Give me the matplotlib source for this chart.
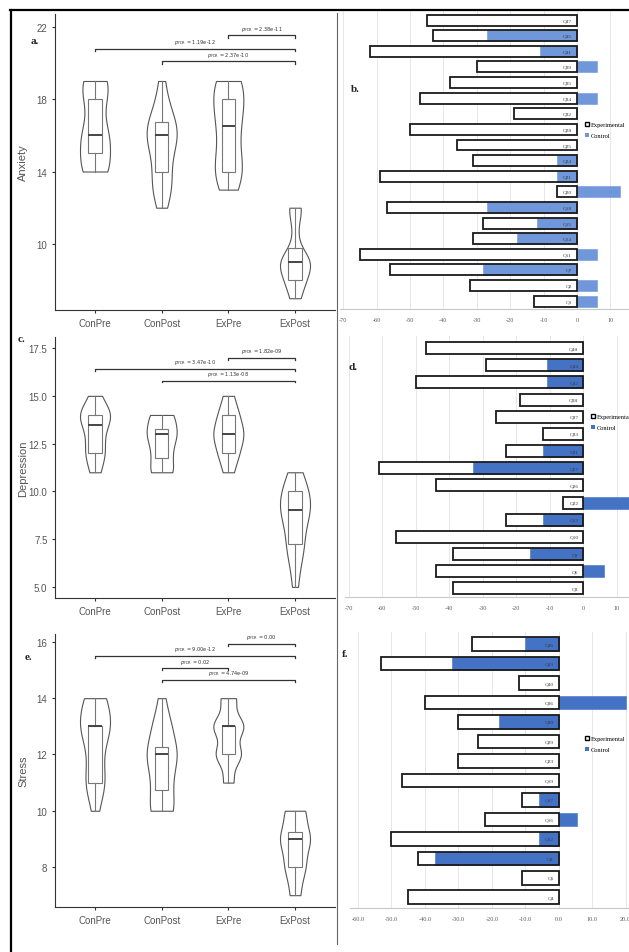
import numpy as np
import matplotlib
matplotlib.use("Agg")
import matplotlib.pyplot as plt
from matplotlib.patches import Patch
from matplotlib.lines import Line2D

# ---- data: violin panels (scores per group, values / counts)
groups = ["ConPre", "ConPost", "ExPre", "ExPost"]

anx_conpre = np.repeat([14, 15, 16, 17, 18, 19], [5, 3, 5, 1, 3, 5])
anx_conpost = np.repeat([12, 13, 14, 15, 16, 17, 18, 19], [1, 3, 2, 2, 5, 3, 1, 1])
anx_expre = np.repeat([13, 14, 15, 16, 17, 18, 19], [2, 4, 2, 2, 3, 3, 4])
anx_expost = np.repeat([7, 8, 9, 10, 11, 12], [2, 4, 7, 1, 1, 3])

dep_conpre = np.repeat([11, 12, 13, 14, 15], [2, 4, 3, 7, 2])
dep_conpost = np.repeat([11, 12, 13, 14], [4, 3, 5, 4])
dep_expre = np.repeat([11, 12, 13, 14, 15], [2, 4, 6, 4, 2])
dep_expost = np.repeat([5, 6, 7, 8, 9, 10, 11], [1, 1, 3, 2, 5, 4, 2])

str_conpre = np.repeat([10, 11, 12, 13, 14], [1, 4, 2, 6, 4])
str_conpost = np.repeat([10, 11, 12, 13, 14], [4, 3, 5, 3, 1])
str_expre = np.repeat([11, 12, 13, 14], [2, 5, 6, 3])
str_expost = np.repeat([7, 8, 9, 10], [2, 4, 6, 4])

# comparisons: (group i, group j, bracket height, p text)
anx_pairs = [(3, 4, 21.52, "2.38e-11"), (1, 4, 20.78, "1.19e-12"), (2, 4, 20.08, "2.37e-10")]
dep_pairs = [(3, 4, 16.98, "1.82e-09"), (1, 4, 16.40, "3.47e-10"), (2, 4, 15.80, "1.13e-08")]
str_pairs = [(3, 4, 15.93, "0.00"), (1, 4, 15.51, "9.00e-12"), (2, 3, 15.06, "0.02"), (2, 4, 14.65, "4.74e-09")]

# ---- data: bar panels (item, experimental change, control change)
anx_items = ["Q47", "Q45", "Q41", "Q39", "Q35", "Q34", "Q32", "Q28", "Q25", "Q24",
             "Q21", "Q20", "Q18", "Q15", "Q14", "Q11", "Q7", "Q2", "Q1"]
anx_exp = [-45, -43, -62, -30, -38, -47, -19, -50, -36, -31, -59, -6, -57, -28, -31, -65, -56, -32, -13]
anx_ctrl = [0, -27, -11, 6, 0, 6, 0, 0, 0, -6, -6, 13, -27, -12, -18, 6, -28, 6, 6]

dep_items = ["Q48", "Q44", "Q42", "Q38", "Q37", "Q33", "Q31", "Q27", "Q26", "Q22",
             "Q13", "Q10", "Q9", "Q6", "Q3"]
dep_exp = [-47, -29, -50, -19, -26, -12, -23, -61, -44, -6, -23, -56, -39, -44, -39]
dep_ctrl = [0, -11, -11, 0, 0, 0, -12, -33, 0, 13.5, -12, 0, -16, 6, 0]

str_items = ["Q46", "Q43", "Q40", "Q36", "Q30", "Q29", "Q23", "Q19", "Q17", "Q16",
             "Q12", "Q8", "Q5", "Q4"]
str_exp = [-26, -53, -12, -40, -30, -24, -30, -47, -11, -22, -50, -42, -11, -45]
str_ctrl = [-10, -32, 0, 20, -18, 0, 0, 0, -6, 5.5, -6, -37, 0, 0]

W, H = 629, 953
fig = plt.figure(figsize=(W / 100, H / 100), dpi=100)
SANS = ["Liberation Sans Narrow", "Liberation Sans", "DejaVu Sans"]
SERIF = ["Liberation Serif", "DejaVu Serif"]


def px_axes(l, t, r, b):
    return fig.add_axes([l / W, 1 - b / H, (r - l) / W, (b - t) / H])


def nrd0(kde):
    # R's default bandwidth, like ggplot's geom_violin
    d = kde.dataset[0]
    sd = d.std(ddof=1)
    iqr = np.subtract(*np.percentile(d, [75, 25]))
    h = 0.9 * min(sd, iqr / 1.34) * len(d) ** -0.2
    return h / sd


def violin_panel(ax, data, ylim, yticks, ylabel, pairs, tick):
    pos = np.arange(1, 5)
    parts = ax.violinplot(data, positions=pos, widths=0.45, showextrema=False, bw_method=nrd0)
    for b in parts["bodies"]:
        b.set_facecolor("white")
        b.set_edgecolor("#555555")
        b.set_linewidth(0.8)
        b.set_alpha(1)
    ax.boxplot(data, positions=pos, widths=0.2, showfliers=False, showcaps=False,
               patch_artist=True,
               boxprops=dict(facecolor="white", edgecolor="#777777", linewidth=0.8),
               whiskerprops=dict(color="#777777", linewidth=0.8),
               medianprops=dict(color="#444444", linewidth=1.4))
    for i, j, h, p in pairs:
        ax.plot([i, i, j, j], [h - tick, h, h, h - tick], color="#333333", lw=0.9, clip_on=False)
        ax.annotate(r"$p_{\mathrm{FDR}}$ = " + p, xy=((i + j) / 2, h), xytext=(0, 2),
                    textcoords="offset points", ha="center", va="bottom",
                    fontsize=3.6, color="#333333", annotation_clip=False)
    ax.set_xlim(0.4, 4.6)
    ax.set_ylim(*ylim)
    ax.set_xticks(pos, groups)
    ax.set_yticks(yticks)
    for s in ["top", "right"]:
        ax.spines[s].set_visible(False)
    for s in ["left", "bottom"]:
        ax.spines[s].set_color("#333333")
        ax.spines[s].set_linewidth(0.8)
    ax.tick_params(length=2.5, color="#333333", labelcolor="#555555", labelsize=7, pad=3)
    for t in ax.get_xticklabels() + ax.get_yticklabels():
        t.set_family(SANS)
    ax.set_ylabel(ylabel, fontsize=8, color="#555555", family=SANS)
    ax.yaxis.set_label_coords(-27 / 280, 0.5)


def bar_panel(ax, items, exp, ctrl, blue, xlim, ylim, xticks, fmt, leg_xy):
    y = np.arange(len(items))
    ax.barh(y, exp, height=0.7, color="white", edgecolor="none", zorder=2)
    ax.barh(y, ctrl, height=0.7, color=blue, edgecolor=blue, lw=0.4, zorder=3)
    ax.barh(y, exp, height=0.7, fill=False, edgecolor="#1a1a1a", lw=1.3, zorder=4)
    for yi, lab in zip(y, items):
        ax.text(-1.5, yi, lab, ha="right", va="center", fontsize=3.8,
                color="#3a3a3a", family=SERIF, zorder=5)
    ax.set_xlim(*xlim)
    ax.set_ylim(*ylim)
    ax.set_xticks(xticks, [fmt.format(v) for v in xticks])
    ax.set_yticks([])
    ax.grid(axis="x", color="#e3e3e3", lw=0.6, zorder=0)
    ax.set_axisbelow(True)
    for s in ["top", "right", "left"]:
        ax.spines[s].set_visible(False)
    ax.spines["bottom"].set_color("#c8c8c8")
    ax.tick_params(length=0, labelsize=4.5, labelcolor="#595959", pad=6)
    for t in ax.get_xticklabels():
        t.set_family(SERIF)
    hs = [Patch(facecolor="white", edgecolor="black", lw=1), Patch(facecolor=blue)]
    ax.legend(hs, ["Experimental", "Control"], loc="upper left",
              bbox_to_anchor=(leg_xy[0] / W, 1 - leg_xy[1] / H), bbox_transform=fig.transFigure,
              frameon=False, prop=dict(family=SERIF, size=4.6), handlelength=0.7,
              handleheight=0.7, handletextpad=0.2, labelspacing=0.9, borderaxespad=0)


# left column
ax_a = px_axes(55, 15, 335, 311)
violin_panel(ax_a, [anx_conpre, anx_conpost, anx_expre, anx_expost], (6.35, 22.7),
             [10, 14, 18, 22], "Anxiety", anx_pairs, 0.12)
ax_c = px_axes(55, 338, 335, 599)
violin_panel(ax_c, [dep_conpre, dep_conpost, dep_expre, dep_expost], (4.42, 18.08),
             [5.0, 7.5, 10.0, 12.5, 15.0, 17.5], "Depression", dep_pairs, 0.1)
ax_c.set_yticks([5.0, 7.5, 10.0, 12.5, 15.0, 17.5], ["5.0", "7.5", "10.0", "12.5", "15.0", "17.5"],
               family=SANS)
ax_e = px_axes(55, 635, 335, 908)
violin_panel(ax_e, [str_conpre, str_conpost, str_expre, str_expost], (6.58, 16.28),
             [8, 10, 12, 14, 16], "Stress", str_pairs, 0.07)

# right column
ax_b = px_axes(340, 12, 629, 310)
bar_panel(ax_b, anx_items, anx_exp, anx_ctrl, "#6f97d9", (-71, 15.6), (18.5, -0.58),
          list(range(-70, 11, 10)), "{:d}", (582, 120))
ax_d = px_axes(345, 337, 629, 598)
bar_panel(ax_d, dep_items, dep_exp, dep_ctrl, "#4472c4", (-71.1, 13.6), (14.5, -0.7),
          list(range(-70, 11, 10)), "{:d}", (588, 412))
ax_f = px_axes(350, 633, 629, 909)
bar_panel(ax_f, str_items, str_exp, str_ctrl, "#4472c4", (-62.4, 21.0), (13.55, -0.62),
          list(range(-60, 21, 10)), "{:.1f}", (582, 734))

# panel letters
for x, y, s in [(35, 42, "a."), (22, 340, "c."), (28, 657, "e."),
                (355, 90, "b."), (353, 367, "d."), (345, 655, "f.")]:
    fig.text(x / W, 1 - y / H, s, fontsize=8, fontweight="bold", family=SERIF,
             ha="center", va="center", color="#222222")

# frame lines
fig.add_artist(Line2D([10 / W, 1], [1 - 11 / H, 1 - 11 / H], color="black", lw=1.6))
fig.add_artist(Line2D([11 / W, 11 / W], [0, 1 - 11 / H], color="black", lw=1.6))
fig.add_artist(Line2D([337 / W, 337 / W], [1 - 945 / H, 1 - 14 / H], color="#666666", lw=0.8))

fig.savefig("out.png", dpi=100)
